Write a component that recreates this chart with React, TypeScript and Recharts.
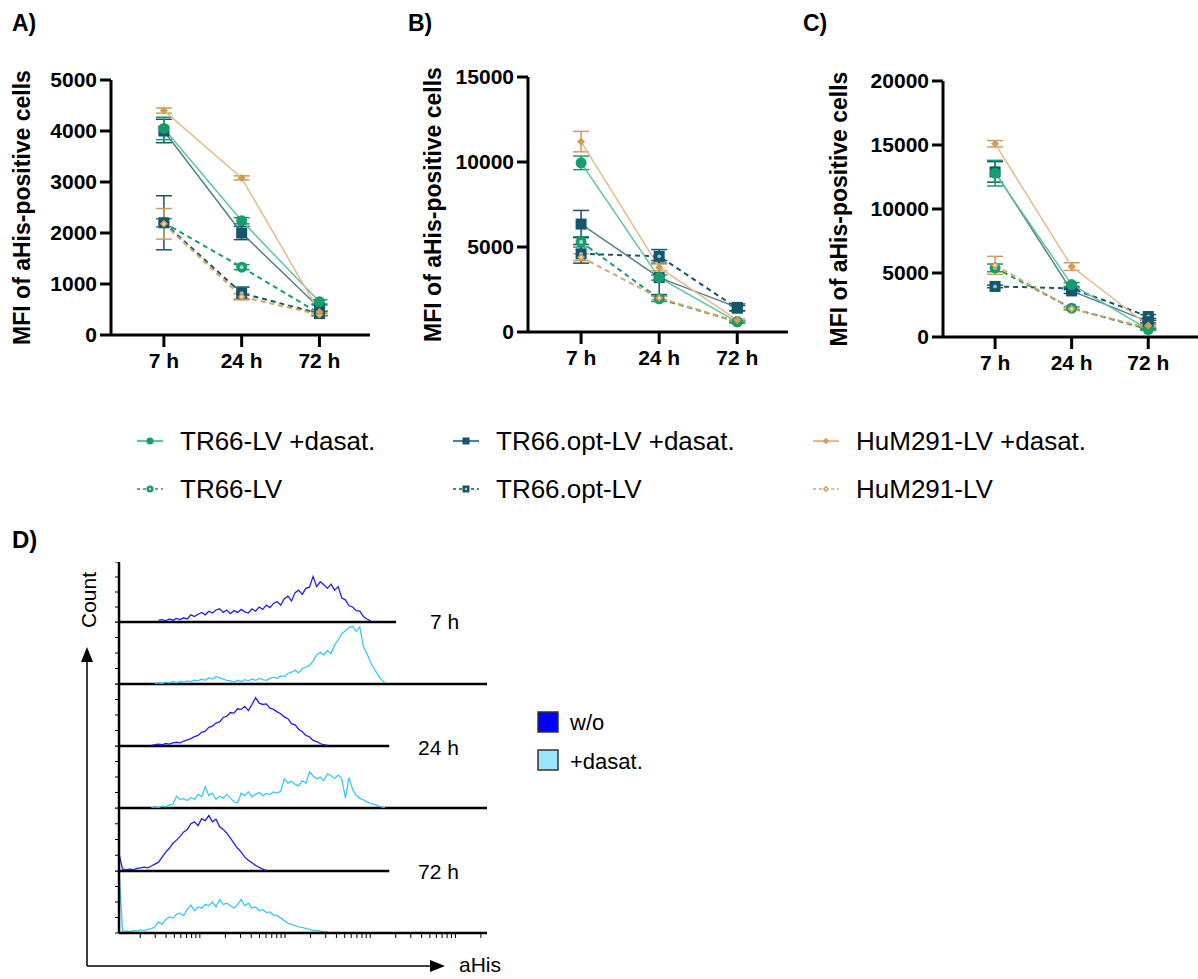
import React from "react";
import { ErrorBar, Line, LineChart, ReferenceLine, XAxis, YAxis } from "recharts";

const TIMES = ["7 h", "24 h", "72 h"];

const GREEN = "#179c6b";
const GREEN_LINE = "#62c49e";
const TEAL = "#15566a";
const TEAL_LINE = "#52808f";
const TAN = "#cf9c55";
const TAN_LINE = "#e3bb8c";

type Shape = "circle" | "square" | "diamond";
type Series = {
  key: string;
  name: string;
  color: string;
  line: string;
  inner: string;
  dashed: boolean;
  shape: Shape;
};

const SERIES: Series[] = [
  { key: "tr66d", name: "TR66-LV +dasat.", color: GREEN, line: GREEN_LINE, inner: GREEN, dashed: false, shape: "circle" },
  { key: "optd", name: "TR66.opt-LV +dasat.", color: TEAL, line: TEAL_LINE, inner: TEAL, dashed: false, shape: "square" },
  { key: "humd", name: "HuM291-LV +dasat.", color: TAN, line: TAN_LINE, inner: TAN, dashed: false, shape: "diamond" },
  { key: "tr66", name: "TR66-LV", color: GREEN, line: GREEN, inner: "#a9e0c8", dashed: true, shape: "circle" },
  { key: "opt", name: "TR66.opt-LV", color: TEAL, line: TEAL, inner: "#9fc0c8", dashed: true, shape: "square" },
  { key: "hum", name: "HuM291-LV", color: TAN, line: "#d9a262", inner: "#f0dcbc", dashed: true, shape: "diamond" },
];

// Panel A – MFI (mean, error) in SERIES order
const A_TR66D = [4050, 2240, 650];
const A_OPTD = [4000, 2000, 530];
const A_HUMD = [4400, 3080, 450];
const A_TR66 = [2200, 1330, 420];
const A_OPT = [2200, 820, 420];
const A_HUM = [2180, 750, 400];
const A_TR66D_ERR = [220, 60, 40];
const A_OPTD_ERR = [230, 130, 60];
const A_HUMD_ERR = [50, 40, 30];
const A_TR66_ERR = [80, 50, 40];
const A_OPT_ERR = [530, 120, 40];
const A_HUM_ERR = [300, 60, 30];

// Panel B
const B_TR66D = [9950, 3200, 600];
const B_OPTD = [6350, 3200, 1450];
const B_HUMD = [11200, 3800, 700];
const B_TR66 = [5300, 1950, 600];
const B_OPT = [4600, 4450, 1400];
const B_HUM = [4400, 2000, 600];
const B_TR66D_ERR = [400, 150, 60];
const B_OPTD_ERR = [800, 1000, 200];
const B_HUMD_ERR = [600, 200, 60];
const B_TR66_ERR = [300, 150, 60];
const B_OPT_ERR = [550, 400, 150];
const B_HUM_ERR = [200, 100, 50];

// Panel C
const C_TR66D = [12800, 4100, 600];
const C_OPTD = [12900, 3600, 1200];
const C_HUMD = [15100, 5500, 900];
const C_TR66 = [5400, 2250, 600];
const C_OPT = [3950, 3800, 1600];
const C_HUM = [5600, 2200, 700];
const C_TR66D_ERR = [1000, 150, 60];
const C_OPTD_ERR = [800, 200, 100];
const C_HUMD_ERR = [250, 300, 60];
const C_TR66_ERR = [300, 100, 50];
const C_OPT_ERR = [100, 100, 150];
const C_HUM_ERR = [700, 100, 50];

const A_TICKS = [0, 1000, 2000, 3000, 4000, 5000];
const B_TICKS = [0, 5000, 10000, 15000];
const C_TICKS = [0, 5000, 10000, 15000, 20000];

// Panel D – flow histograms, % of row height per channel bin
const BIN = 10;
const H7_WO_START = 110;
const H7_WO = [3, 4, 2, 5, 3, 6, 4, 7, 5, 12, 9, 13, 16, 12, 18, 15, 20, 22, 16, 20, 14, 19, 16, 21, 17, 15, 22, 18, 25, 21, 28, 24, 31, 34, 28, 39, 43, 35, 49, 53, 46, 56, 58, 76, 59, 67, 62, 56, 63, 53, 59, 40, 37, 27, 25, 19, 18, 9, 5, 2];
const H7_DA_START = 100;
const H7_DA = [1, 2, 1, 3, 2, 4, 2, 4, 3, 5, 4, 6, 5, 8, 6, 10, 8, 12, 10, 8, 6, 5, 3, 6, 4, 7, 5, 8, 6, 9, 7, 6, 9, 11, 9, 13, 12, 17, 19, 22, 18, 25, 27, 30, 37, 47, 51, 47, 54, 49, 63, 71, 81, 86, 91, 93, 85, 92, 60, 49, 35, 25, 15, 7, 2];
const H24_WO_START = 90;
const H24_WO = [1, 2, 3, 2, 4, 3, 5, 6, 5, 8, 10, 12, 15, 17, 22, 24, 30, 32, 37, 39, 46, 48, 54, 53, 60, 59, 64, 57, 67, 78, 69, 67, 68, 61, 59, 55, 52, 47, 44, 36, 34, 27, 23, 17, 15, 9, 7, 4, 2, 1];
const H24_DA_START = 90;
const H24_DA = [1, 2, 1, 3, 2, 5, 6, 19, 14, 15, 12, 17, 14, 22, 18, 34, 20, 24, 14, 19, 16, 22, 16, 10, 8, 24, 20, 26, 18, 22, 25, 20, 23, 22, 26, 24, 27, 47, 40, 43, 38, 36, 44, 40, 58, 52, 47, 50, 44, 55, 52, 48, 53, 47, 16, 49, 30, 20, 16, 13, 10, 7, 6, 4, 2, 1];
const H72_WO_START = 0;
const H72_WO = [27, 3, 2, 3, 2, 4, 5, 6, 5, 8, 11, 14, 22, 30, 36, 44, 49, 55, 62, 66, 75, 78, 72, 83, 80, 88, 78, 82, 70, 66, 60, 52, 44, 36, 30, 22, 17, 13, 9, 6, 3, 1];
const H72_DA_START = 0;
const H72_DA = [100, 3, 3, 2, 4, 3, 5, 4, 6, 7, 10, 18, 14, 22, 26, 24, 30, 32, 28, 38, 45, 36, 42, 40, 46, 44, 50, 42, 54, 46, 48, 44, 40, 46, 54, 44, 48, 40, 42, 36, 38, 33, 34, 29, 28, 24, 20, 16, 14, 12, 10, 9, 7, 6, 4, 4, 3, 2, 2];

const LOG_DECADES = [225, 462, 699, 936];
const LOG_MINOR = [2, 3, 4, 5, 6, 7, 8, 9];

const BLUE = "#2020ea";
const CYAN = "#3cc8f2";

const FONT = "'Liberation Sans', Arial, Helvetica, sans-serif";

function buildPanel(means: number[][], errs: number[][]) {
  return TIMES.map((label, i) => {
    const row: Record<string, number | string> = { t: i, label };
    SERIES.forEach((s, k) => {
      row[s.key] = means[k][i];
      row[s.key + "Err"] = errs[k][i];
    });
    return row;
  });
}

const A_DATA = buildPanel(
  [A_TR66D, A_OPTD, A_HUMD, A_TR66, A_OPT, A_HUM],
  [A_TR66D_ERR, A_OPTD_ERR, A_HUMD_ERR, A_TR66_ERR, A_OPT_ERR, A_HUM_ERR],
);
const B_DATA = buildPanel(
  [B_TR66D, B_OPTD, B_HUMD, B_TR66, B_OPT, B_HUM],
  [B_TR66D_ERR, B_OPTD_ERR, B_HUMD_ERR, B_TR66_ERR, B_OPT_ERR, B_HUM_ERR],
);
const C_DATA = buildPanel(
  [C_TR66D, C_OPTD, C_HUMD, C_TR66, C_OPT, C_HUM],
  [C_TR66D_ERR, C_OPTD_ERR, C_HUMD_ERR, C_TR66_ERR, C_OPT_ERR, C_HUM_ERR],
);

function Marker({ cx, cy, s, size }: { cx?: number; cy?: number; s: Series; size: number }) {
  if (cx == null || cy == null) return null;
  const r = size;
  let outer: React.ReactNode;
  if (s.shape === "circle") outer = <circle cx={cx} cy={cy} r={r} fill={s.color} />;
  else if (s.shape === "square")
    outer = <rect x={cx - r} y={cy - r} width={2 * r} height={2 * r} fill={s.color} />;
  else {
    const d = r * 0.9;
    outer = (
      <polygon
        points={`${cx},${cy - d} ${cx + d},${cy} ${cx},${cy + d} ${cx - d},${cy}`}
        fill={s.color}
      />
    );
  }
  return (
    <g>
      {outer}
      {s.dashed ? <circle cx={cx} cy={cy} r={r * 0.35} fill={s.inner} /> : null}
    </g>
  );
}

const DRAW_ORDER = [3, 4, 5, 1, 0, 2];
const noLabel = () => "";

function MfiPanel({
  left,
  width,
  yWidth,
  labelOffset,
  top,
  bottom,
  ymax,
  ticks,
  data,
}: {
  left: number;
  width: number;
  yWidth: number;
  labelOffset: number;
  top: number;
  bottom: number;
  ymax: number;
  ticks: number[];
  data: Record<string, number | string>[];
}) {
  const axisStroke = { stroke: "#000", strokeWidth: 3 };
  return (
    <div style={{ position: "absolute", left, top: 0 }}>
      <LineChart width={width} height={400} data={data} margin={{ top, right: 0, bottom, left: 0 }}>
        <XAxis
          dataKey="t"
          type="number"
          domain={[-0.68, 2.65]}
          ticks={[0, 1, 2]}
          interval={0}
          allowDataOverflow
          tickFormatter={(v: number) => TIMES[v] ?? ""}
          axisLine={axisStroke}
          tickLine={axisStroke}
          tickSize={12}
          tickMargin={6}
          height={40}
          tick={{ fill: "#000", fontSize: 21, fontWeight: 700 }}
        />
        <YAxis
          type="number"
          domain={[0, ymax]}
          ticks={ticks}
          interval={0}
          allowDataOverflow
          width={yWidth}
          axisLine={axisStroke}
          tickLine={axisStroke}
          tickSize={11}
          tickMargin={3}
          tick={{ fill: "#000", fontSize: 21, fontWeight: 700 }}
          label={{
            value: "MFI of aHis-positive cells",
            angle: -90,
            position: "insideLeft",
            offset: labelOffset,
            style: { textAnchor: "middle", fill: "#000", fontSize: 23, fontWeight: 700 },
          }}
        />
        {DRAW_ORDER.map((k) => {
          const s = SERIES[k];
          return (
            <Line
              key={s.key}
              dataKey={s.key}
              name={s.name}
              stroke={s.line}
              strokeWidth={s.dashed ? 2 : 1.5}
              strokeDasharray={s.dashed ? "5 4" : undefined}
              isAnimationActive={false}
              dot={(p: any) => (
                <Marker key={`${s.key}-${p.index}`} cx={p.cx} cy={p.cy} s={s} size={s.shape === "diamond" ? 4.5 : 5.5} />
              )}
              activeDot={false}
            >
              <ErrorBar
                dataKey={s.key + "Err"}
                width={8}
                stroke={s.color}
                strokeWidth={1.5}
                isAnimationActive={false}
              />
            </Line>
          );
        })}
      </LineChart>
    </div>
  );
}

function histData(start: number, values: number[]) {
  return values.map((v, i) => ({ ch: start + i * BIN, v }));
}

const LOG_TICKS = [
  ...LOG_MINOR.map((k) => Math.round(LOG_DECADES[0] - 237 * (1 - Math.log10(k)))),
  ...LOG_DECADES.flatMap((d) => [d, ...LOG_MINOR.map((k) => Math.round(d + 237 * Math.log10(k)))]),
].filter((t) => t > 0 && t < 1024);

function HistRow({
  baseline,
  height,
  values,
  start,
  color,
  end,
  bottom,
}: {
  baseline: number;
  height: number;
  values: number[];
  start: number;
  color: string;
  end: number;
  bottom?: boolean;
}) {
  const black = { stroke: "#000", strokeWidth: 2.5 };
  return (
    <div style={{ position: "absolute", left: 109, top: baseline - height }}>
      <LineChart
        width={378}
        height={height + (bottom ? 10 : 2)}
        data={histData(start, values)}
        margin={{ top: 0, right: 0, bottom: bottom ? 0 : 2, left: 0 }}
      >
        <XAxis
          dataKey="ch"
          type="number"
          domain={[0, 1024]}
          allowDataOverflow
          hide={!bottom}
          ticks={LOG_TICKS}
          interval={0}
          tickFormatter={noLabel}
          tickSize={5}
          height={10}
          axisLine={black}
          tickLine={{ stroke: "#000", strokeWidth: 1 }}
        />
        <YAxis
          type="number"
          domain={[0, 100]}
          allowDataOverflow
          ticks={[0, 25, 50, 75, 100]}
          interval={0}
          tickFormatter={noLabel}
          tickSize={4}
          width={10}
          axisLine={black}
          tickLine={{ stroke: "#000", strokeWidth: 1 }}
        />
        {!bottom ? (
          <ReferenceLine
            segment={[
              { x: 0, y: 0 },
              { x: end, y: 0 },
            ]}
            stroke="#000"
            strokeWidth={2.5}
          />
        ) : null}
        <Line
          dataKey="v"
          stroke={color}
          strokeWidth={1.3}
          dot={false}
          activeDot={false}
          isAnimationActive={false}
        />
      </LineChart>
    </div>
  );
}

function LegendIcon({ s }: { s: Series }) {
  return (
    <svg width={28} height={14} style={{ display: "block" }}>
      <line
        x1={1}
        y1={7}
        x2={27}
        y2={7}
        stroke={s.line}
        strokeWidth={s.dashed ? 1.6 : 2.2}
        strokeDasharray={s.dashed ? "3 3" : undefined}
      />
      <Marker cx={14} cy={7} s={s} size={3.5} />
    </svg>
  );
}

const LEGEND_COLS = [136, 452, 812];
const LEGEND_ROWS = [441, 489];

export default function App() {
  return (
    <div
      style={{
        position: "absolute",
        left: 0,
        top: 0,
        width: 1198,
        height: 979,
        background: "#fff",
        fontFamily: FONT,
        color: "#000",
      }}
    >
      <MfiPanel left={0} width={370} yWidth={111} labelOffset={22} top={80} bottom={25} ymax={5000} ticks={A_TICKS} data={A_DATA} />
      <MfiPanel left={400} width={388} yWidth={128} labelOffset={33} top={77} bottom={28} ymax={15000} ticks={B_TICKS} data={B_DATA} />
      <MfiPanel left={800} width={398} yWidth={143} labelOffset={39} top={81} bottom={23} ymax={20000} ticks={C_TICKS} data={C_DATA} />

      {SERIES.map((s, k) => (
        <div
          key={s.key}
          style={{
            position: "absolute",
            left: LEGEND_COLS[k % 3],
            top: LEGEND_ROWS[Math.floor(k / 3)] - 15,
            height: 30,
            display: "flex",
            alignItems: "center",
            gap: 16,
            fontSize: 26,
            whiteSpace: "nowrap",
          }}
        >
          <LegendIcon s={s} />
          <span>{s.name}</span>
        </div>
      ))}

      <HistRow baseline={622} height={60} values={H7_WO} start={H7_WO_START} color={BLUE} end={771} />
      <HistRow baseline={684} height={62} values={H7_DA} start={H7_DA_START} color={CYAN} end={1024} />
      <HistRow baseline={746} height={62} values={H24_WO} start={H24_WO_START} color={BLUE} end={752} />
      <HistRow baseline={808} height={62} values={H24_DA} start={H24_DA_START} color={CYAN} end={1024} />
      <HistRow baseline={871} height={63} values={H72_WO} start={H72_WO_START} color={BLUE} end={752} />
      <HistRow baseline={933} height={62} values={H72_DA} start={H72_DA_START} color={CYAN} end={1024} bottom />

      <svg
        width={1198}
        height={979}
        style={{ position: "absolute", left: 0, top: 0, pointerEvents: "none" }}
      >
        <text x={12} y={23} dominantBaseline="central" fontSize={23} fontWeight={700}>A)</text>
        <text x={408} y={23} dominantBaseline="central" fontSize={23} fontWeight={700}>B)</text>
        <text x={803} y={23} dominantBaseline="central" fontSize={23} fontWeight={700}>C)</text>
        <text x={12} y={539} dominantBaseline="central" fontSize={24} fontWeight={700}>D)</text>

        <line x1={87} y1={966} x2={87} y2={660} stroke="#000" strokeWidth={1.5} />
        <polygon points="87,647 81,662 93,662" fill="#000" />
        <line x1={87} y1={966} x2={432} y2={966} stroke="#000" strokeWidth={1.5} />
        <polygon points="445,966 430,960 430,972" fill="#000" />
        <text x={88} y={600} transform="rotate(-90 88 600)" textAnchor="middle" dominantBaseline="central" fontSize={21}>
          Count
        </text>
        <text x={459} y={964} dominantBaseline="central" fontSize={21}>aHis</text>

        <text x={430} y={621} dominantBaseline="central" fontSize={21}>7 h</text>
        <text x={418} y={747} dominantBaseline="central" fontSize={21}>24 h</text>
        <text x={418} y={871} dominantBaseline="central" fontSize={21}>72 h</text>

        <rect x={538} y={712} width={20} height={20} fill="#0000ff" stroke="#333" strokeWidth={1.5} />
        <text x={570} y={722} dominantBaseline="central" fontSize={22}>w/o</text>
        <rect x={538} y={750} width={20} height={20} fill="#99e6ff" stroke="#333" strokeWidth={1.5} />
        <text x={570} y={761} dominantBaseline="central" fontSize={22}>+dasat.</text>
      </svg>
    </div>
  );
}
